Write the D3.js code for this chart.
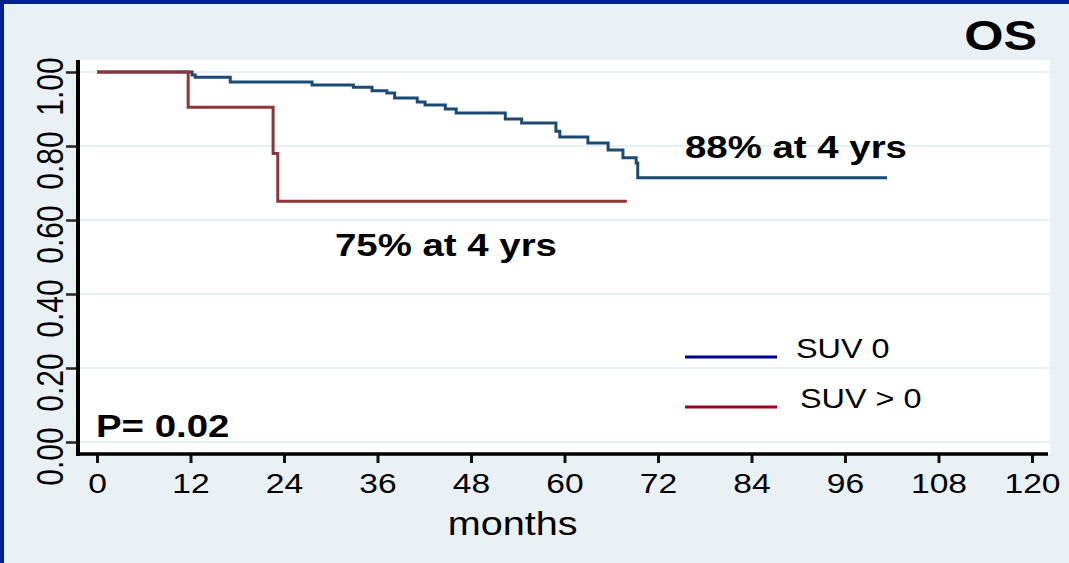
<!DOCTYPE html>
<html>
<head>
<meta charset="utf-8">
<script src="https://cdn.jsdelivr.net/npm/d3@7"></script>
<style>
  html, body { margin: 0; padding: 0; background: #eaf1f4; }
  svg { display: block; }
  text { font-family: "Liberation Sans", Arial, sans-serif; fill: #000; }
</style>
</head>
<body>
<div id="chart"></div>
<script>
// survival estimates
const blueTimes = [0, 12.2, 12.6, 17.1, 27.6, 32.9, 35.3, 37.2, 38.2, 41.1, 42.1, 44.7, 46.1, 52.4, 54.5, 58.9, 59.4, 63.0, 65.6, 67.5, 69.2, 69.4, 101.4]
const blueSurv  = [1.0, 0.992, 0.986, 0.973, 0.965, 0.959, 0.949, 0.943, 0.930, 0.919, 0.911, 0.900, 0.889, 0.873, 0.862, 0.840, 0.824, 0.808, 0.789, 0.768, 0.754, 0.714, 0.714]
const redTimes  = [0, 11.7, 22.6, 23.2, 68.0]
const redSurv   = [1.0, 0.905, 0.780, 0.651, 0.651]

const xTicks = [0, 12, 24, 36, 48, 60, 72, 84, 96, 108, 120]
const yTicks = [0, 0.2, 0.4, 0.6, 0.8, 1.0]
const legendLabels = ["SUV 0", "SUV > 0"]
const seriesColors = ["#1d4a74", "#8f3439"]
const legendColors = ["#00008f", "#a0001f"]

const width = 1069, height = 563
const stretch = 1.2   // the picture is a bit wider than tall

const svg = d3.select("#chart").append("svg")
  .attr("width", width)
  .attr("height", height)

svg.append("rect").attr("width", width).attr("height", height).attr("fill", "#eaf1f4")
// blue frame top and left
svg.append("rect").attr("x", 0).attr("y", 0).attr("width", width).attr("height", 4).attr("fill", "#00218f")
svg.append("rect").attr("x", 0).attr("y", 0).attr("width", 4).attr("height", height).attr("fill", "#00218f")

const x = d3.scaleLinear().domain([0, 120]).range([97, 1032])
const y = d3.scaleLinear().domain([0, 1]).range([442, 72])

const axisX = 78, axisY = 454

// plot region
svg.append("rect")
  .attr("x", axisX + 2).attr("y", 60)
  .attr("width", 1050 - axisX - 2).attr("height", axisY - 60)
  .attr("fill", "#fff")

// grid
svg.append("g").selectAll("line")
  .data(yTicks)
  .enter()
  .append("line")
    .attr("x1", axisX + 2)
    .attr("x2", 1050)
    .attr("y1", d => y(d))
    .attr("y2", d => y(d))
    .attr("stroke", "#eaf1f4")
    .attr("stroke-width", 2.5)

// axes
const gx = svg.append("g")
  .attr("transform", `translate(0,${axisY})`)
  .call(d3.axisBottom(x).tickValues(xTicks).tickSize(9).tickFormat(d3.format("d")))
gx.select(".domain").remove()
gx.selectAll(".tick line").attr("stroke", "#111").attr("stroke-width", 3)
gx.selectAll(".tick text")
  .attr("y", 39).attr("dy", 0)
  .attr("transform", `scale(${stretch},1)`)
  .attr("x", 0)
  .style("font-size", "28px")
  .style("font-family", '"Liberation Sans", Arial, sans-serif')
  .attr("fill", "#000")

const gy = svg.append("g")
  .attr("transform", `translate(${axisX},0)`)
  .call(d3.axisLeft(y).tickValues(yTicks).tickSize(12).tickFormat(d3.format(".2f")))
gy.select(".domain").remove()
gy.selectAll(".tick line").attr("stroke", "#222").attr("stroke-width", 2.5)
gy.selectAll(".tick text")
  .attr("x", 0).attr("dy", 0).attr("y", 0)
  .attr("text-anchor", "middle")
  .attr("transform", `translate(-15,14) scale(${stretch},1) rotate(-90)`)
  .style("font-size", "30px")
  .style("font-family", '"Liberation Sans", Arial, sans-serif')
  .attr("fill", "#000")

// axis lines
svg.append("line")
  .attr("x1", axisX).attr("x2", axisX)
  .attr("y1", 60).attr("y2", axisY + 2)
  .attr("stroke", "#000").attr("stroke-width", 4)
svg.append("line")
  .attr("x1", axisX - 2).attr("x2", 1048)
  .attr("y1", axisY).attr("y2", axisY)
  .attr("stroke", "#000").attr("stroke-width", 3.5)

// curves
const step = d3.line()
  .x(d => x(d[0]))
  .y(d => y(d[1]))
  .curve(d3.curveStepAfter)

svg.append("path")
  .datum(d3.zip(blueTimes, blueSurv))
  .attr("d", step)
  .attr("fill", "none")
  .attr("stroke", seriesColors[0])
  .attr("stroke-width", 3)

svg.append("path")
  .datum(d3.zip(redTimes, redSurv))
  .attr("d", step)
  .attr("fill", "none")
  .attr("stroke", seriesColors[1])
  .attr("stroke-width", 3)

// texts
function label(txt, tx, ty, size, bold, anchor) {
  svg.append("text")
    .attr("transform", `translate(${tx},${ty}) scale(${stretch},1)`)
    .attr("text-anchor", anchor || "start")
    .style("font-size", size + "px")
    .style("font-weight", bold ? "bold" : "normal")
    .text(txt)
}

label("OS", 1037, 50, 42, true, "end")
label("88% at 4 yrs", 685, 158, 32, true)
label("75% at 4 yrs", 335, 256, 32, true)
label("P= 0.02", 96, 437, 32, true)
label("months", (x(48) + x(60)) / 2 - 5, 535, 33, false, "middle")

// legend
const legend = svg.append("g").selectAll("g")
  .data(legendLabels)
  .enter()
  .append("g")
    .attr("transform", (d, i) => `translate(685,${357 + i * 50})`)

legend.append("line")
  .attr("x1", 0).attr("x2", 92)
  .attr("stroke", (d, i) => legendColors[i])
  .attr("stroke-width", 3)

legend.append("text")
  .attr("transform", (d, i) => `translate(${111 + i * 4},1) scale(${stretch},1)`)
  .style("font-size", "27px")
  .text(d => d)
</script>
</body>
</html>
